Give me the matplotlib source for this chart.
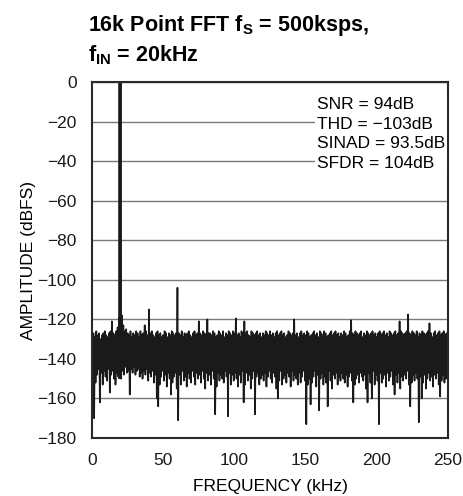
import numpy as np
import matplotlib
matplotlib.use("Agg")
import matplotlib.pyplot as plt
from matplotlib import font_manager

# condensed font like the datasheet, fall back if missing
names = set(f.name for f in font_manager.fontManager.ttflist)
FONT = "Liberation Sans Narrow" if "Liberation Sans Narrow" in names else "Liberation Sans"
plt.rcParams['font.family'] = [FONT, 'DejaVu Sans']
plt.rcParams['mathtext.fontset'] = 'custom'
plt.rcParams['mathtext.rm'] = FONT
plt.rcParams['mathtext.bf'] = FONT + ':bold'

# noise floor, upper swing per kHz bin (dBFS)
noise_top = [
    -128, -127, -129, -126, -128, -127, -130, -128, -127, -126, -128, -129, -127, -126, -128, -127, -128, -126, -124, -126, -126, -125, -123, -126, -125,
    -127, -128, -126, -129, -127, -128, -126, -127, -129, -126, -128, -127, -123, -126, -128, -127, -127, -126, -128, -129, -127, -126, -128, -127, -129,
    -128, -126, -127, -129, -127, -128, -126, -127, -128, -127, -127, -127, -128, -126, -129, -127, -128, -127, -126, -128, -129, -127, -126, -128, -127,
    -127, -127, -128, -126, -127, -128, -126, -127, -127, -128, -126, -127, -129, -128, -126, -127, -128, -126, -129, -127, -128, -126, -127, -128, -126,
    -127, -126, -128, -127, -129, -126, -127, -128, -127, -126, -128, -129, -126, -127, -128, -127, -126, -128, -127, -129, -127, -128, -126, -127, -128,
    -126, -128, -127, -129, -127, -126, -128, -127, -126, -128, -127, -129, -128, -126, -127, -128, -127, -126, -128, -127, -129, -127, -126, -128, -127,
    -128, -126, -127, -129, -128, -127, -126, -128, -127, -129, -126, -127, -128, -126, -127, -129, -128, -127, -126, -128, -127, -126, -128, -127, -129,
    -127, -128, -126, -127, -129, -128, -126, -125, -127, -128, -126, -127, -128, -127, -126, -129, -127, -128, -126, -127, -128, -127, -126, -128, -127,
    -129, -127, -126, -128, -127, -126, -128, -127, -129, -126, -127, -128, -127, -126, -128, -127, -129, -126, -127, -128, -127, -126, -124, -127, -128,
    -126, -127, -128, -126, -129, -127, -128, -126, -127, -128, -127, -126, -128, -127, -129, -127, -126, -128, -127, -126, -128, -127, -126, -128, -127,
]

# noise floor, lower swing per kHz bin (dBFS)
noise_bot = [
    -150, -146, -152, -148, -145, -150, -147, -153, -146, -149, -151, -145, -152, -148, -146, -150, -153, -147, -149, -145, -150, -146, -148, -144, -147,
    -146, -149, -145, -147, -144, -148, -146, -145, -149, -147, -150, -146, -148, -145, -151, -147, -149, -146, -152, -148, -150, -147, -153, -149, -146,
    -151, -148, -154, -147, -150, -146, -152, -149, -147, -155, -150, -148, -153, -146, -151, -149, -154, -147, -150, -152, -146, -149, -153, -147, -150,
    -148, -152, -146, -150, -155, -147, -151, -148, -153, -146, -150, -149, -154, -147, -151, -148, -150, -152, -146, -149, -150, -147, -153, -148, -151,
    -147, -150, -154, -148, -152, -146, -149, -153, -147, -151, -148, -155, -150, -146, -152, -149, -147, -153, -150, -148, -151, -147, -154, -149, -146,
    -150, -152, -147, -149, -155, -148, -151, -146, -153, -150, -148, -152, -147, -149, -154, -146, -151, -148, -150, -153, -147, -152, -149, -146, -151,
    -148, -153, -150, -147, -152, -149, -146, -154, -148, -151, -150, -147, -153, -149, -152, -148, -146, -151, -155, -148, -150, -147, -153, -149, -151,
    -147, -150, -152, -148, -154, -149, -147, -151, -146, -153, -150, -148, -152, -147, -149, -151, -148, -155, -150, -147, -152, -149, -146, -153, -148,
    -151, -149, -147, -152, -150, -148, -154, -147, -151, -149, -146, -153, -150, -148, -152, -147, -155, -149, -151, -148, -150, -146, -153, -149, -152,
    -148, -151, -147, -150, -153, -149, -146, -152, -148, -155, -150, -147, -151, -149, -154, -148, -150, -147, -153, -149, -151, -148, -152, -150, -147,
]

# fundamental, harmonics and larger spurs
spur_khz = [14, 19, 20, 21, 37, 40, 60, 75, 81, 101, 107, 142, 182, 216, 222, 237]
spur_db = [-121, -119, 0, -118, -123, -115, -104, -121, -120, -119.5, -121, -120, -120.5, -121, -117.5, -122]

# deep troughs in the floor
dip_khz = [0, 1, 5, 12, 26, 45, 46, 55, 60, 86, 95, 106, 114, 130, 150, 153, 159, 165, 183, 193, 196, 201, 212, 223, 229, 231, 244]
dip_db = [-163, -170, -162, -157, -158, -160, -164, -158, -171, -168, -169, -162, -168, -160, -173, -163, -166, -164, -162, -162, -160, -173, -158, -164, -172, -160, -159]

fund_khz = 20
stats = ["SNR = 94dB", "THD = \u2212103dB", "SINAD = 93.5dB", "SFDR = 104dB"]

top = np.array(noise_top, dtype=float)
bot = np.array(noise_bot, dtype=float)
top[spur_khz] = spur_db
bot[dip_khz] = dip_db

freq = np.arange(0, 250, 0.5)
amp = np.empty(500)
amp[0::2] = top
amp[1::2] = bot

fig = plt.figure(figsize=(4.64, 4.96), dpi=100)
ax = fig.add_axes([0.1983, 0.1169, 0.7672, 0.7177])

ax.plot(freq, amp, color='#1a1a1a', linewidth=1.2)
# the fundamental is drawn heavier in the original
ax.vlines(fund_khz, bot[fund_khz], top[fund_khz], color='#1a1a1a', linewidth=2.6)
ax.set_xlim(0, 250)
ax.set_ylim(-180, 0)
ax.set_xticks([0, 50, 100, 150, 200, 250])
ax.set_yticks(np.arange(-180, 1, 20))
ax.set_yticklabels(['0' if v == 0 else '\u2212%d' % -v for v in np.arange(-180, 1, 20)])
ax.grid(axis='y', color='#7a7a7a', linewidth=1.0)
ax.set_axisbelow(True)
ax.tick_params(length=0, labelsize=12.5, pad=11, colors='#1a1a1a')
for s in ax.spines.values():
    s.set_color('#2a2a2a')
    s.set_linewidth(1.5)

ax.set_xlabel("FREQUENCY (kHz)", fontsize=12.5, labelpad=8)
ax.set_ylabel("AMPLITUDE (dBFS)", fontsize=12.5, labelpad=1)

ax.text(0.632, 0.957, "\n".join(stats), transform=ax.transAxes, fontsize=12.5,
        va='top', ha='left', linespacing=1.38,
        bbox=dict(facecolor='white', edgecolor='none', pad=1.5))

fig.text(88 / 464, 1 - 31 / 496, r"16k Point FFT f$_\mathbf{S}$ = 500ksps,",
         fontsize=15.5, fontweight='bold', ha='left', va='baseline')
fig.text(88 / 464, 1 - 61 / 496, r"f$_\mathbf{IN}$ = 20kHz",
         fontsize=15.5, fontweight='bold', ha='left', va='baseline')

fig.savefig("out.png", dpi=100)
